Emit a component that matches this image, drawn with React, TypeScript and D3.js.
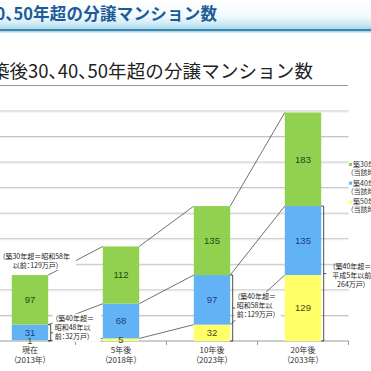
import React from 'react';
import * as d3 from 'd3';

// values (万戸)
const categories = ['現在', '5年後', '10年後', '20年後'];
const years = ['（2013年）', '（2018年）', '（2023年）', '（2033年）'];
const over50 = [1, 5, 32, 129];
const over40 = [31, 68, 97, 135];
const over30 = [97, 112, 135, 183];
const seriesKeys = ['over50', 'over40', 'over30'];
const seriesColors = ['#ffff66', '#62b3f5', '#92d050'];
const valueColors = ['#4a4a12', '#1b3d7c', '#1f4a14'];
const legendNames = ['築30年超', '築40年超', '築50年超'];
const legendColors = ['#92d050', '#62b3f5', '#ffff66'];
const legendNote = '（当該時点）';
const yTicks = [0, 50, 100, 150, 200, 250, 300, 350, 400, 450];

// titles split so the half-width part can use proportional spacing
const titleHead = '築後30、40、50';
const titleTail = '年超の分譲マンション数';

// bracketed notes: bar index, value at the top of the bracket, text lines
const notes = [
  { bar: 0, top: 32, lines: ['（築40年超＝', '昭和48年以', '前：32万戸）'] },
  { bar: 2, top: 129, lines: ['（築40年超＝', '昭和58年以', '前：129万戸）'] },
  { bar: 3, top: 264, lines: ['（築40年超＝', '平成5年以前', '264万戸）'] },
];
const topNote = ['（築30年超＝昭和58年', '以前：129万戸）'];

const font = "'Noto Sans CJK JP', 'Noto Sans', sans-serif";
const palt = { fontFeatureSettings: '"palt"' } as React.CSSProperties;

export default function App() {
  const W = 371;
  const H = 371;
  const rows = categories.map((c, i) => ({
    cat: c,
    over50: over50[i],
    over40: over40[i],
    over30: over30[i],
  }));
  const stacked = d3.stack<any>().keys(seriesKeys)(rows);

  const x = d3
    .scaleBand<string>()
    .domain(categories)
    .range([-15.5, 348.5])
    .paddingInner(0.6)
    .paddingOuter(0.3);
  const y = d3.scaleLinear().domain([0, 450]).range([341, 111]);
  const bw = x.bandwidth();
  const step = x.step();
  const x0 = x.range()[0];

  // connector lines between neighbouring bars
  const connectors: { x1: number; y1: number; x2: number; y2: number }[] = [];
  stacked.forEach((s) => {
    for (let i = 0; i < categories.length - 1; i++) {
      connectors.push({
        x1: (x(categories[i]) as number) + bw,
        y1: y(s[i][1]),
        x2: x(categories[i + 1]) as number,
        y2: y(s[i + 1][1]),
      });
    }
  });

  const noteLayout = [
    { dy: -14, anchor: 'start', boxW: 48 },
    { dy: -11, anchor: 'start', boxW: 46 },
    { dy: -6.5, anchor: 'middle', boxW: 0 },
  ];

  const bar0 = x(categories[0]) as number;
  const total0 = over50[0] + over40[0] + over30[0];

  return (
    <svg
      width={W}
      height={H}
      style={{ position: 'fixed', left: 0, top: 0, background: '#fff' }}
      fontFamily={font}
    >
      <defs>
        <linearGradient id="band" x1="0" y1="0" x2="0" y2="1">
          <stop offset="0%" stopColor="#ffffff" />
          <stop offset="55%" stopColor="#f2fafd" />
          <stop offset="80%" stopColor="#d3ecf7" />
          <stop offset="100%" stopColor="#a9d9ee" />
        </linearGradient>
      </defs>
      <rect x={0} y={0} width={W} height={H} fill="#fff" />

      {/* page header */}
      <rect x={0} y={0} width={W} height={29} fill="url(#band)" />
      <rect x={0} y={29} width={W} height={2.5} fill="#3a87ad" />
      <rect x={0} y={31.5} width={W} height={1.5} fill="#cde8f4" />
      <g fontSize={16.5} fontWeight="bold" fill="#1d5b98">
        <text x={33} y={20} textAnchor="end" style={palt}>
          {titleHead}
        </text>
        <text x={33} y={20} textLength={184} lengthAdjust="spacing">
          {titleTail}
        </text>
      </g>

      {/* chart title */}
      <g fontSize={18.5} fill="#222">
        <text x={108} y={78} textAnchor="end" style={palt}>
          {titleHead}
        </text>
        <text x={108} y={78} textLength={205} lengthAdjust="spacing">
          {titleTail}
        </text>
      </g>
      <line x1={0} x2={348} y1={85.5} y2={85.5} stroke="#9a9a9a" strokeWidth={1} />

      {/* grid */}
      {yTicks.map((t) => (
        <g key={t}>
          <line
            x1={x0}
            x2={348.5}
            y1={y(t)}
            y2={y(t)}
            stroke={t === 0 ? '#9a9a9a' : '#c2c2c2'}
            strokeWidth={1}
          />
          {t !== 0 && (
            <line x1={x0} x2={348.5} y1={y(t) + 1} y2={y(t) + 1} stroke="#ececec" strokeWidth={1} />
          )}
        </g>
      ))}
      {d3.range(categories.length + 1).map((i) => (
        <line
          key={i}
          x1={x0 + step * i}
          x2={x0 + step * i}
          y1={y(0)}
          y2={y(0) + 4}
          stroke="#9a9a9a"
        />
      ))}

      {/* connectors */}
      {connectors.map((c, i) => (
        <line key={i} {...c} stroke="#333" strokeWidth={0.7} />
      ))}

      {/* bars */}
      {stacked.map((s, si) => (
        <g key={s.key}>
          {s.map((d, i) => (
            <rect
              key={i}
              x={x(categories[i])}
              y={y(d[1])}
              width={bw}
              height={Math.max(0.6, y(d[0]) - y(d[1]))}
              fill={seriesColors[si]}
            />
          ))}
        </g>
      ))}

      {/* values */}
      {stacked.map((s, si) =>
        s.map((d, i) => (
          <text
            key={s.key + i}
            x={(x(categories[i]) as number) + bw / 2}
            y={(y(d[0]) + y(d[1])) / 2}
            dy="0.35em"
            textAnchor="middle"
            fontSize={9.5}
            fill={valueColors[si]}
            fontFamily="'Liberation Sans', Arial, sans-serif"
          >
            {d[1] - d[0]}
          </text>
        ))
      )}

      {/* note above the first bar */}
      <rect x={-4} y={249} width={80} height={21} fill="#fff" />
      {topNote.map((l, i) => (
        <text
          key={i}
          x={bar0 + bw / 2 + 6}
          y={y(total0) - 19 + i * 9.5}
          dy="0.35em"
          textAnchor="middle"
          fontSize={7}
          fill="#222"
          style={palt}
        >
          {l}
        </text>
      ))}

      {/* brackets and notes */}
      {notes.map((n, k) => {
        const bx = (x(categories[n.bar]) as number) + bw + 2.5;
        const yt = y(n.top);
        const yb = y(0);
        const mid = (yt + yb) / 2;
        const lay = noteLayout[k];
        const tx = lay.anchor === 'start' ? bx + 4 : bx + 28;
        return (
          <g key={k}>
            {lay.boxW > 0 && (
              <rect x={bx + 2} y={mid + lay.dy - 5} width={lay.boxW} height={28} fill="#fff" />
            )}
            <path
              d={`M${bx - 2.5},${yt}H${bx}V${yb}H${bx - 2.5}M${bx},${mid}H${bx + 2.5}`}
              fill="none"
              stroke="#222"
              strokeWidth={0.8}
            />
            {n.lines.map((l, i) => (
              <text
                key={i}
                x={tx}
                y={mid + lay.dy + i * 9}
                dy="0.35em"
                textAnchor={lay.anchor as any}
                fontSize={7}
                fill="#222"
                style={palt}
              >
                {l}
              </text>
            ))}
          </g>
        );
      })}

      {/* category labels */}
      {categories.map((c, i) => (
        <g key={c}>
          <text
            x={(x(c) as number) + bw / 2}
            y={353}
            textAnchor="middle"
            fontSize={8}
            fill="#333"
            style={palt}
          >
            {c}
          </text>
          <text
            x={(x(c) as number) + bw / 2}
            y={362.5}
            textAnchor="middle"
            fontSize={8}
            fill="#333"
            style={palt}
          >
            {years[i]}
          </text>
        </g>
      ))}

      {/* legend */}
      {legendNames.map((name, i) => (
        <g key={name}>
          <rect x={349} y={163 + i * 18.7} width={3} height={3} fill={legendColors[i]} />
          <text x={353} y={164.5 + i * 18.7} dy="0.35em" fontSize={7} fill="#333" style={palt}>
            {name}
          </text>
          <text x={350} y={172.5 + i * 18.7} dy="0.35em" fontSize={7} fill="#333" style={palt}>
            {legendNote}
          </text>
        </g>
      ))}
    </svg>
  );
}
